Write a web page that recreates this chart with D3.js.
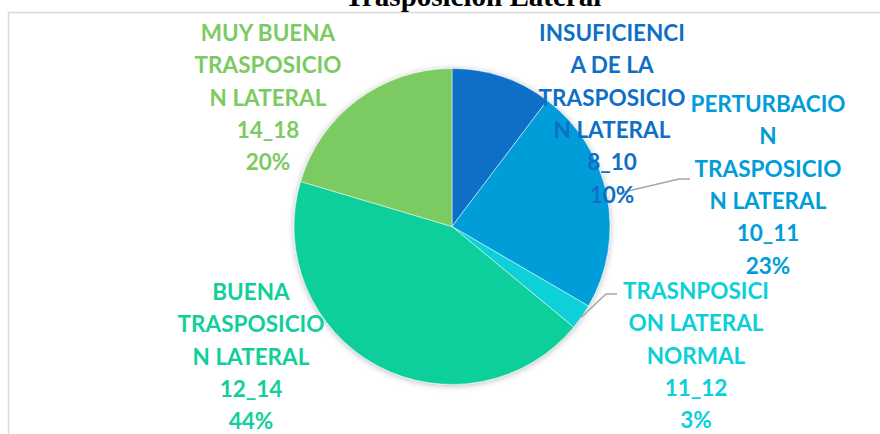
<!DOCTYPE html>
<meta charset="utf-8" />
<style>
    body { margin: 0; background: #fff; }
    .title { font: bold 29px "Liberation Serif", "Times New Roman", serif; }
    .lbl { font-family: Lato, Calibri, sans-serif; font-weight: bold; font-size: 22.5px; }
</style>
<title>Trasposicion Lateral</title>
<body></body>
<script src="https://d3js.org/d3.v7.min.js"></script>
<script>

    // data
    var categories = [
        "INSUFICIENCIA DE LA TRASPOSICION LATERAL",
        "PERTURBACION TRASPOSICION LATERAL",
        "TRASNPOSICION LATERAL NORMAL",
        "BUENA TRASPOSICION LATERAL",
        "MUY BUENA TRASPOSICION LATERAL"
    ];
    var ranges = ["8_10", "10_11", "11_12", "12_14", "14_18"];
    var values = [10.3, 23.1, 2.6, 43.6, 20.4];
    // how excel wrapped each label
    var labelLines = [
        ["INSUFICIENCI", "A DE LA", "TRASPOSICIO", "N LATERAL"],
        ["PERTURBACIO", "N", "TRASPOSICIO", "N LATERAL"],
        ["TRASNPOSICI", "ON LATERAL", "NORMAL"],
        ["BUENA", "TRASPOSICIO", "N LATERAL"],
        ["MUY BUENA", "TRASPOSICIO", "N LATERAL"]
    ];
    var colors = ["#0F6FC6", "#009DD9", "#0BD0D9", "#10CF9B", "#7CCA62"];

    // label placement (center x, first baseline, leader radius offset)
    var labelPos = [
        {x: 612, y: 41, leader: null},
        {x: 768, y: 112, leader: {x: 690, y: 179, dr: 14}},
        {x: 696, y: 299, leader: {x: 617, y: 294, dr: 0}},
        {x: 251, y: 300, leader: null},
        {x: 268, y: 41, leader: null}
    ];

    var svgWidth = 880, svgHeight = 434;
    var cx = 452, cy = 226.5, radius = 158;
    var lineH = 32.3;

    var svg = d3.select("body").append("svg")
        .attr("width", svgWidth)
        .attr("height", svgHeight);

    var defs = svg.append("defs");
    var f = defs.append("filter").attr("id", "shadow")
        .attr("x", "-20%").attr("y", "-20%").attr("width", "140%").attr("height", "140%");
    f.append("feDropShadow")
        .attr("dx", 0).attr("dy", 1)
        .attr("stdDeviation", 3)
        .attr("flood-color", "#000")
        .attr("flood-opacity", 0.28);

    // chart area border
    svg.append("rect")
        .attr("x", 8.5).attr("y", 12.5)
        .attr("width", 900).attr("height", 500)
        .attr("fill", "#fff")
        .attr("stroke", "#D9D9D9")
        .attr("stroke-width", 1.5);

    svg.append("text")
        .attr("class", "title")
        .attr("x", 473).attr("y", 5.5)
        .attr("text-anchor", "middle")
        .text("Trasposición Lateral");

    var pie = d3.pie().sort(null).value(function (d) { return d; });
    var arcs = pie(values);
    var arc = d3.arc().innerRadius(0).outerRadius(radius);
    var total = d3.sum(values);

    var g = svg.append("g").attr("transform", "translate(" + cx + "," + cy + ")");

    g.append("g").attr("filter", "url(#shadow)")
        .selectAll("path")
        .data(arcs)
        .enter().append("path")
        .attr("d", arc)
        .attr("fill", function (d, i) { return colors[i]; })
        .attr("stroke", "#fff")
        .attr("stroke-width", 0.5);

    // leader lines
    arcs.forEach(function (d, i) {
        var L = labelPos[i].leader;
        if (!L) return;
        var a = (d.startAngle + d.endAngle) / 2;
        var r = radius + L.dr;
        var ex = cx + r * Math.sin(a), ey = cy - r * Math.cos(a);
        svg.append("polyline")
            .attr("points", [[L.x, L.y], [L.x - 11, L.y], [ex, ey]].join(" "))
            .attr("fill", "none")
            .attr("stroke", "#A6A6A6")
            .attr("stroke-width", 1.5);
    });

    // data labels
    arcs.forEach(function (d, i) {
        var lines = labelLines[i].concat([ranges[i], Math.round(d.value / total * 100) + "%"]);
        var t = svg.append("text")
            .attr("class", "lbl")
            .attr("text-anchor", "middle")
            .attr("fill", colors[i]);
        lines.forEach(function (s, k) {
            t.append("tspan")
                .attr("x", labelPos[i].x)
                .attr("y", labelPos[i].y + k * lineH)
                .text(s);
        });
    });

</script>
